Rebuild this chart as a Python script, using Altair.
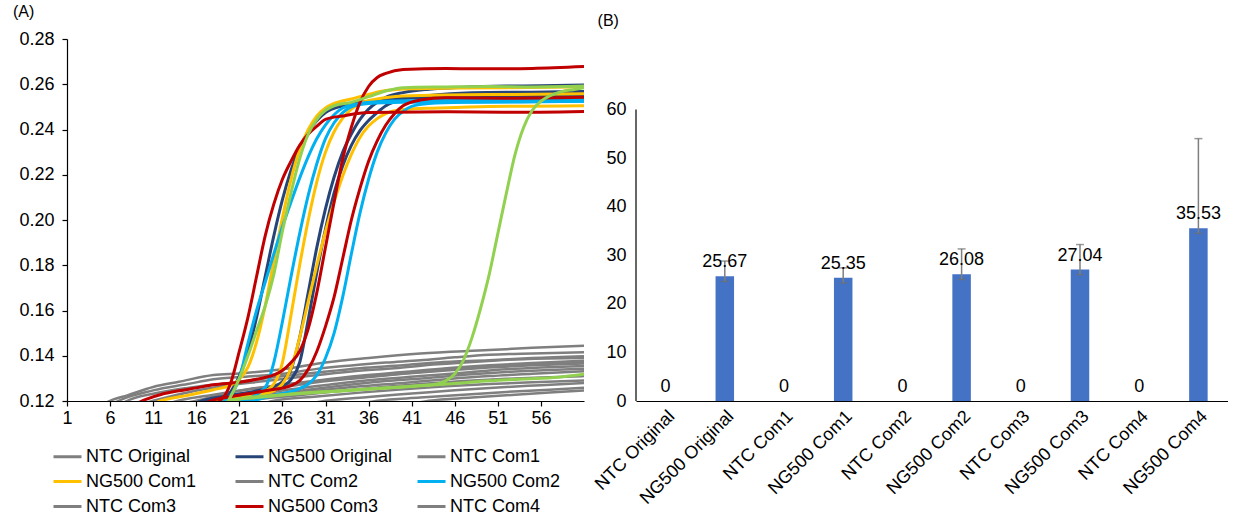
import altair as alt
import pandas as pd

FONT = "Liberation Sans"

# ---------------- Panel A: amplification curves (cycle, signal) ----------------
# NTC replicates (all grey)
ntc_original_a = [(5,0.118),(6,0.1201),(8,0.1225),(11,0.1262),(14,0.1285),(18,0.1315),(21,0.1322),(26,0.134),(31,0.137),(36,0.139),(42,0.141),(50,0.1425),(55,0.1435),(61,0.1444)]
ntc_original_b = [(6,0.118),(7,0.1201),(11,0.1247),(15,0.1275),(18,0.1296),(22,0.1308),(26,0.132),(30,0.1342),(34,0.1357),(38,0.137),(42,0.138),(46,0.1393),(50,0.1404),(55,0.141),(61,0.1415)]
ntc_original_c = [(7,0.118),(8,0.1201),(11,0.1232),(15,0.1258),(20,0.128),(25,0.1305),(30,0.1326),(35,0.1345),(40,0.1358),(44,0.137),(50,0.138),(55,0.139),(61,0.1398)]
ntc_com1_a = [(12,0.118),(14,0.1202),(18,0.1228),(22,0.1252),(26,0.1272),(30,0.129),(35,0.1312),(40,0.1328),(45,0.1345),(50,0.1358),(55,0.1368),(61,0.1378)]
ntc_com1_b = [(15,0.118),(17,0.1202),(21,0.1232),(25,0.1255),(30,0.1283),(35,0.1302),(40,0.132),(45,0.1335),(50,0.1348),(55,0.1358),(61,0.1366)]
ntc_com1_c = [(17,0.118),(19,0.1201),(23,0.1228),(27,0.1252),(32,0.1275),(37,0.1295),(42,0.131),(47,0.1325),(52,0.134),(56,0.1348),(61,0.1355)]
ntc_com2_a = [(18,0.118),(20,0.1202),(24,0.1225),(28,0.1245),(33,0.1268),(38,0.1288),(43,0.1302),(48,0.1318),(53,0.133),(57,0.1337),(61,0.1343)]
ntc_com2_b = [(19,0.118),(21,0.1201),(25,0.122),(30,0.1245),(35,0.1265),(40,0.128),(45,0.1296),(50,0.131),(55,0.132),(61,0.1332)]
ntc_com2_c = [(20,0.118),(22,0.1201),(27,0.1222),(32,0.1242),(37,0.126),(42,0.1275),(47,0.1288),(52,0.1298),(57,0.1305),(61,0.131)]
ntc_com3_a = [(23,0.118),(25,0.1201),(30,0.122),(35,0.1237),(40,0.1252),(45,0.1265),(50,0.1275),(55,0.1283),(61,0.1291)]
ntc_com3_b = [(28,0.118),(31,0.1201),(36,0.1218),(41,0.1233),(46,0.1248),(51,0.126),(56,0.127),(61,0.128)]
ntc_com3_c = [(34,0.118),(37,0.1201),(42,0.1215),(47,0.1228),(52,0.124),(57,0.125),(61,0.1259)]
ntc_com4_a = [(40,0.118),(43,0.1201),(48,0.1215),(53,0.1228),(57,0.1238),(61,0.1247)]
ntc_com4_b = [(9,0.118),(11,0.1201),(15,0.1238),(19,0.1265),(24,0.1288),(29,0.131),(34,0.133),(39,0.1345),(44,0.1362),(49,0.1375),(54,0.1385),(61,0.139)]
ntc_com4_c = [(13,0.118),(16,0.1201),(20,0.1238),(25,0.1265),(30,0.1288),(35,0.1305),(40,0.1322),(45,0.1338),(50,0.1352),(55,0.1362),(61,0.1372)]

# NG500 Original (dark blue)
ng500_original_a = [(18,0.114),(19,0.1195),(20,0.124),(21,0.131),(22,0.142),(23,0.157),(24,0.175),(25,0.193),(26,0.209),(27,0.222),(28,0.232),(29,0.239),(30,0.244),(31,0.2475),(33,0.2505),(36,0.2525),(40,0.2538),(45,0.2545),(52,0.2545),(61,0.255)]
ng500_original_b = [(14,0.116),(17,0.1205),(20,0.1225),(23,0.1245),(25,0.1265),(26,0.1285),(27,0.134),(28,0.148),(29,0.168),(30,0.188),(31,0.205),(32,0.219),(33,0.23),(34,0.238),(35,0.2445),(36,0.249),(37,0.252),(38,0.2542),(40,0.2563),(43,0.2578),(47,0.2587),(52,0.2592),(56,0.2593),(61,0.2597)]
ng500_original_c = [(14,0.114),(18,0.119),(21,0.1215),(24,0.124),(26,0.1265),(27,0.1295),(28,0.137),(29,0.156),(30,0.177),(31,0.196),(32,0.212),(33,0.224),(34,0.233),(35,0.2395),(36,0.244),(37,0.2475),(38,0.2505),(40,0.2535),(43,0.255),(48,0.2562),(55,0.2565),(61,0.2568)]

# NG500 Com1 (yellow)
ng500_com1_a = [(10,0.117),(12,0.1202),(15,0.1225),(18,0.125),(20,0.127),(21,0.1295),(22,0.135),(23,0.146),(24,0.162),(25,0.182),(26,0.201),(27,0.218),(28,0.231),(29,0.24),(30,0.246),(31,0.2495),(32,0.2515),(34,0.2535),(36,0.2555),(38,0.2572),(41,0.258),(46,0.2583),(52,0.2585),(61,0.2588)]
ng500_com1_b = [(14,0.114),(18,0.1195),(21,0.122),(24,0.1245),(25,0.1275),(26,0.137),(27,0.158),(28,0.18),(29,0.2),(30,0.217),(31,0.23),(32,0.239),(33,0.245),(34,0.249),(35,0.2515),(37,0.2535),(40,0.2548),(45,0.2553),(53,0.2555),(61,0.2558)]
ng500_com1_c = [(15,0.114),(19,0.1195),(22,0.122),(25,0.1245),(26,0.1275),(27,0.1345),(28,0.148),(29,0.164),(30,0.18),(31,0.195),(32,0.208),(33,0.2195),(34,0.229),(35,0.2365),(36,0.2415),(37,0.2448),(38,0.247),(40,0.2488),(44,0.2495),(50,0.2502),(55,0.2503),(61,0.2505)]

# NG500 Com2 (light blue)
ng500_com2_a = [(16,0.113),(18,0.1175),(20,0.1225),(21,0.13),(22,0.1455),(23,0.16),(24,0.1725),(25,0.185),(26,0.197),(27,0.208),(28,0.2185),(29,0.228),(30,0.236),(31,0.242),(32,0.2465),(33,0.2495),(35,0.2515),(38,0.2525),(44,0.253),(52,0.2532),(61,0.2535)]
ng500_com2_b = [(17,0.113),(20,0.118),(22,0.121),(24,0.126),(25,0.137),(26,0.155),(27,0.175),(28,0.194),(29,0.211),(30,0.225),(31,0.236),(32,0.243),(33,0.2475),(34,0.25),(36,0.2515),(40,0.252),(48,0.2522),(61,0.2525)]
ng500_com2_c = [(17,0.114),(21,0.1185),(25,0.1225),(28,0.1255),(29,0.1275),(30,0.1315),(31,0.139),(32,0.15),(33,0.166),(34,0.185),(35,0.203),(36,0.218),(37,0.23),(38,0.2385),(39,0.2445),(40,0.248),(41,0.2502),(43,0.2515),(47,0.252),(54,0.2522),(61,0.2525)]

# NG500 Com3 (red)
ng500_com3_a = [(1,0.112),(10,0.114),(17,0.117),(19,0.121),(20,0.128),(21,0.142),(22,0.157),(23,0.175),(24,0.193),(25,0.207),(26,0.218),(27,0.226),(28,0.233),(29,0.238),(30,0.2415),(31,0.2445),(33,0.246),(36,0.2475),(45,0.2478),(52,0.2476),(61,0.248)]
ng500_com3_b = [(1,0.113),(8,0.117),(10,0.1205),(12,0.123),(14,0.1245),(16,0.1258),(18,0.1272),(21,0.1283),(23,0.1296),(25,0.1315),(26,0.1335),(27,0.137),(28,0.142),(29,0.152),(30,0.168),(31,0.188),(32,0.208),(33,0.227),(34,0.241),(35,0.252),(36,0.259),(37,0.263),(38,0.2648),(40,0.2665),(45,0.267),(50,0.2668),(55,0.267),(61,0.2678)]
ng500_com3_c = [(1,0.11),(15,0.116),(18,0.1205),(21,0.1225),(24,0.1245),(27,0.1268),(28,0.129),(29,0.134),(30,0.142),(31,0.153),(32,0.166),(33,0.183),(34,0.2),(35,0.214),(36,0.226),(37,0.235),(38,0.242),(39,0.247),(40,0.2505),(42,0.253),(45,0.254),(52,0.2538),(61,0.2542)]

# NG500 Com4 (green)
ng500_com4_a = [(18,0.112),(19,0.116),(20,0.122),(21,0.13),(22,0.14),(23,0.151),(24,0.162),(25,0.176),(26,0.195),(27,0.212),(28,0.227),(29,0.238),(30,0.2445),(31,0.2485),(32,0.2505),(34,0.252),(36,0.2545),(38,0.257),(40,0.2585),(45,0.2588),(50,0.259),(55,0.2588),(61,0.2592)]
ng500_com4_b = [(19,0.118),(20,0.1202),(26,0.1228),(34,0.1248),(42,0.1268),(44,0.1275),(45,0.129),(46,0.132),(47,0.138),(48,0.148),(49,0.161),(50,0.176),(51,0.194),(52,0.212),(53,0.229),(54,0.241),(55,0.2485),(56,0.2525),(57,0.2548),(58,0.2563),(60,0.2578),(61,0.2585)]
ng500_com4_c = [(19,0.118),(20,0.1203),(23,0.1215),(26,0.1227),(30,0.1238),(34,0.1248),(38,0.1257),(42,0.1267),(46,0.1277),(50,0.1289),(54,0.1297),(58,0.1305),(61,0.1318)]

groups = ["NTC Original", "NG500 Original", "NTC Com1", "NG500 Com1", "NTC Com2",
          "NG500 Com2", "NTC Com3", "NG500 Com3", "NTC Com4", "NG500 Com4"]
group_colors = ["#7F7F7F", "#264478", "#7F7F7F", "#FFC000", "#7F7F7F",
                "#00B0F0", "#7F7F7F", "#C00000", "#7F7F7F", "#92D050"]
# legend entries, listed column by column so the grid reads row by row
legend_groups = ["NTC Original", "NG500 Com1", "NTC Com3",
                 "NG500 Original", "NTC Com2", "NG500 Com3",
                 "NTC Com1", "NG500 Com2", "NTC Com4"]
cycle_ticks = [1, 6, 11, 16, 21, 26, 31, 36, 41, 46, 51, 56]
signal_ticks = [0.12, 0.14, 0.16, 0.18, 0.20, 0.22, 0.24, 0.26, 0.28]

grey_curves = [
    ("ntc_original_a", "NTC Original", ntc_original_a), ("ntc_original_b", "NTC Original", ntc_original_b),
    ("ntc_original_c", "NTC Original", ntc_original_c), ("ntc_com1_a", "NTC Com1", ntc_com1_a),
    ("ntc_com1_b", "NTC Com1", ntc_com1_b), ("ntc_com1_c", "NTC Com1", ntc_com1_c),
    ("ntc_com2_a", "NTC Com2", ntc_com2_a), ("ntc_com2_b", "NTC Com2", ntc_com2_b),
    ("ntc_com2_c", "NTC Com2", ntc_com2_c), ("ntc_com3_a", "NTC Com3", ntc_com3_a),
    ("ntc_com3_b", "NTC Com3", ntc_com3_b), ("ntc_com3_c", "NTC Com3", ntc_com3_c),
    ("ntc_com4_a", "NTC Com4", ntc_com4_a), ("ntc_com4_b", "NTC Com4", ntc_com4_b),
    ("ntc_com4_c", "NTC Com4", ntc_com4_c),
]
colour_curves = [
    [("ng500_original_a", "NG500 Original", ng500_original_a), ("ng500_original_b", "NG500 Original", ng500_original_b),
     ("ng500_original_c", "NG500 Original", ng500_original_c)],
    [("ng500_com1_a", "NG500 Com1", ng500_com1_a), ("ng500_com1_b", "NG500 Com1", ng500_com1_b),
     ("ng500_com1_c", "NG500 Com1", ng500_com1_c)],
    [("ng500_com2_a", "NG500 Com2", ng500_com2_a), ("ng500_com2_b", "NG500 Com2", ng500_com2_b),
     ("ng500_com2_c", "NG500 Com2", ng500_com2_c)],
    [("ng500_com3_a", "NG500 Com3", ng500_com3_a), ("ng500_com3_b", "NG500 Com3", ng500_com3_b),
     ("ng500_com3_c", "NG500 Com3", ng500_com3_c)],
    [("ng500_com4_a", "NG500 Com4", ng500_com4_a), ("ng500_com4_b", "NG500 Com4", ng500_com4_b),
     ("ng500_com4_c", "NG500 Com4", ng500_com4_c)],
]


def to_df(curves):
    rows = []
    for cid, grp, pts in curves:
        for c, v in pts:
            rows.append({"curve": cid, "group": grp, "cycle": c, "signal": v})
    return pd.DataFrame(rows)


x_enc = alt.X("cycle:Q", scale=alt.Scale(domain=[1, 61], nice=False, zero=False),
              axis=alt.Axis(values=cycle_ticks, title=None, grid=False, tickSize=5,
                            labelPadding=3, labelFlush=False, format="d"))
y_enc = alt.Y("signal:Q", scale=alt.Scale(domain=[0.12, 0.28], nice=False, zero=False),
              axis=alt.Axis(values=signal_ticks, title=None, grid=False, tickSize=5,
                            labelPadding=8, format=".2f"))
legend = alt.Legend(title=None, orient="none", legendX=-15, legendY=402, columns=3,
                    symbolType="stroke", symbolSize=784, symbolStrokeWidth=3,
                    labelFontSize=18, labelFont=FONT, labelColor="#000000",
                    columnPadding=18, rowPadding=-7, gridAlign="all", labelOffset=3,
                    padding=0, values=legend_groups)
c_enc = alt.Color("group:N", scale=alt.Scale(domain=groups, range=group_colors), legend=legend)


def line_layer(curves, width):
    return alt.Chart(to_df(curves)).mark_line(
        clip=True, interpolate="monotone", strokeWidth=width
    ).encode(x=x_enc, y=y_enc, color=c_enc, detail="curve:N")


layers_a = [line_layer(grey_curves, 2.5)] + [line_layer(g, 3) for g in colour_curves]
chart_a = alt.layer(*layers_a).properties(
    width=517, height=362,
    title=alt.TitleParams("(A)", anchor="start", fontSize=16, font=FONT,
                          fontWeight="normal", offset=10, dx=-6, color="#000000"),
)

# ---------------- Panel B: Ct values with error bars ----------------
samples = ["NTC Original", "NG500 Original", "NTC Com1", "NG500 Com1", "NTC Com2",
           "NG500 Com2", "NTC Com3", "NG500 Com3", "NTC Com4", "NG500 Com4"]
ct_values = [0, 25.67, 0, 25.35, 0, 26.08, 0, 27.04, 0, 35.53]
ct_labels = ["0", "25.67", "0", "25.35", "0", "26.08", "0", "27.04", "0", "35.53"]
err_low = [None, 24.6, None, 24.3, None, 25.0, None, 26.0, None, 34.5]
err_high = [None, 28.8, None, 27.4, None, 31.3, None, 32.2, None, 54.0]
ct_axis_ticks = [0, 10, 20, 30, 40, 50, 60]
ct_axis_ends = [0, 60]

df_b = pd.DataFrame({"sample": samples, "ct": ct_values, "label": ct_labels,
                     "lo": err_low, "hi": err_high})
df_err = df_b.dropna(subset=["lo", "hi"])
df_axis = pd.DataFrame({"y0": [ct_axis_ends[0]], "y1": [ct_axis_ends[1]]})

xb = alt.X("sample:N", sort=samples,
           scale=alt.Scale(paddingInner=0, paddingOuter=0),
           axis=alt.Axis(title=None, labelAngle=315, ticks=False, labelPadding=6,
                         domainColor="#000000", labelLimit=300))
yb_axis = alt.Axis(values=ct_axis_ticks, title=None, grid=False, domain=False,
                   ticks=False, labelPadding=10)
# extra headroom above 60 so the panel's plot starts lower, as in the original
yb_scale = alt.Scale(domain=[0, 74.5], nice=False)

bars = alt.Chart(df_b).mark_bar(size=18.5, color="#4472C4").encode(
    x=xb, y=alt.Y("ct:Q", scale=yb_scale, axis=yb_axis))
y_axis_line = alt.Chart(df_axis).mark_rule(color="#000000", strokeWidth=1.2).encode(
    x=alt.value(0), y=alt.Y("y0:Q", scale=yb_scale, axis=yb_axis), y2="y1:Q")
err_rule = alt.Chart(df_err).mark_rule(color="#7F7F7F", strokeWidth=1.5).encode(
    x=xb, y=alt.Y("lo:Q", scale=yb_scale, axis=yb_axis), y2="hi:Q")
cap_lo = alt.Chart(df_err).mark_tick(color="#6F6F6F", thickness=1.5, size=8).encode(
    x=xb, y=alt.Y("lo:Q", scale=yb_scale, axis=yb_axis))
cap_hi = alt.Chart(df_err).mark_tick(color="#6F6F6F", thickness=1.5, size=8).encode(
    x=xb, y=alt.Y("hi:Q", scale=yb_scale, axis=yb_axis))
labels = alt.Chart(df_b).mark_text(baseline="bottom", dy=-5, fontSize=18, font=FONT,
                                   color="#000000").encode(
    x=xb, y=alt.Y("ct:Q", scale=yb_scale, axis=yb_axis), text="label:N")

chart_b = alt.layer(bars, y_axis_line, err_rule, cap_lo, cap_hi, labels).properties(
    width=592, height=362,
    title=alt.TitleParams("(B)", anchor="start", fontSize=16, font=FONT,
                          fontWeight="normal", offset=10, dx=6, color="#000000"),
)

chart = alt.hconcat(chart_a, chart_b, spacing=7).properties(
    padding={"left": 12, "top": 4, "right": 0, "bottom": 0},
    background="white",
).configure_view(stroke=None).configure_axis(
    labelFont=FONT, labelFontSize=18, labelColor="#000000",
    domainColor="#000000", domainWidth=1.2, tickColor="#000000", tickWidth=1.2,
)

chart.save("out.html", embed_options={"renderer": "svg", "actions": False})
